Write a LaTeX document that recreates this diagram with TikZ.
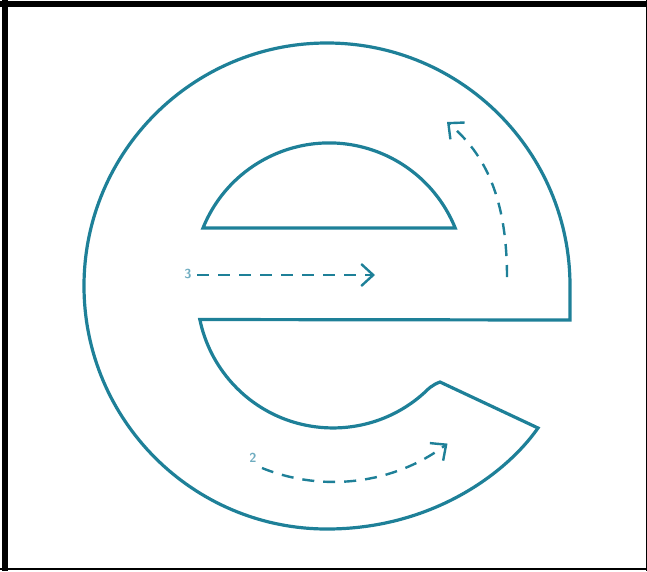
\documentclass[tikz,border=0pt]{standalone}
\usetikzlibrary{arrows.meta}
\definecolor{eteal}{RGB}{30,128,152}
\definecolor{lteal}{RGB}{110,172,192}
\tikzset{
  eline/.style={draw=eteal, line width=3.2pt, line join=miter},
  darrow/.style={draw=eteal, line width=2.4pt, dash pattern=on 12pt off 9pt,
     -{Straight Barb[length=12pt,width=22pt,line width=2.4pt]}},
  numlabel/.style={text=lteal, font=\sffamily\bfseries\fontsize{13}{13}\selectfont, inner sep=0pt},
  frame/.style={fill=black, draw=none}
}
\begin{document}
\begin{tikzpicture}[x=1pt,y=1pt]
\useasboundingbox (0,0) rectangle (647,-571);
% frame
\fill[frame] (0,-1) rectangle (647,-6.5);
\fill[frame] (2,0) rectangle (7.5,-571);
\fill[frame] (0,-567.5) rectangle (647,-570);
\fill[frame] (645.5,0) rectangle (647,-571);
% outer contour of the e
\draw[eline] (570,-320) -- (570,-286)
  arc[start angle=0, end angle=270, radius=243pt]
  .. controls (430,-529) and (505,-475) .. (538,-428)
  -- (440,-382) .. controls (432,-385) and (428,-389) .. (424,-393)
  arc[start angle=-48, end angle=-168.3, radius=136pt]
  -- cycle;
% upper counter
\draw[eline] (203,-228) arc[start angle=158, end angle=22, radius=136pt] -- cycle;
% dashed arrows
\coordinate (s3) at (197,-275);
\coordinate (e3) at (375,-275);
\node[numlabel] (n3) at (188,-274) {3};
\draw[darrow] (s3) -- (e3);
\node[numlabel] (n2) at (253,-458) {2};
\draw[darrow] (262,-468) arc[start angle=-112, end angle=-53, radius=190pt];
\coordinate (s1) at (507,-277);
\coordinate (e1) at (447,-122);
\draw[darrow] (s1) .. controls (507,-190) and (480,-150) .. (e1);
\end{tikzpicture}
\end{document}
